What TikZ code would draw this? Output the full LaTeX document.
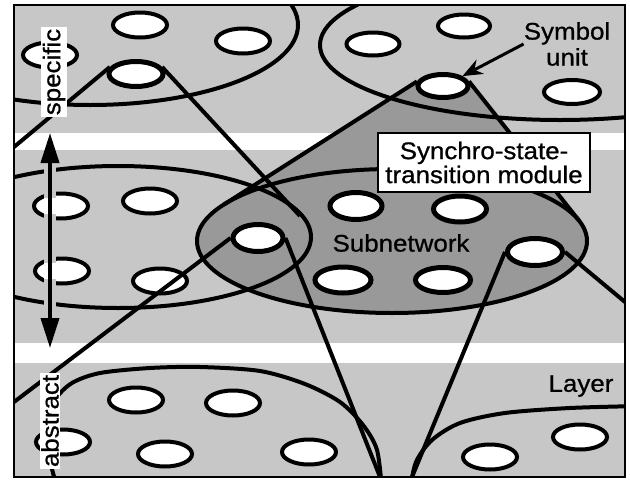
\documentclass[tikz,border=0pt]{standalone}
\usepackage{fontspec}
\setmainfont{Liberation Sans}[FakeStretch=1.08,FakeBold=0.8]
\usetikzlibrary{shapes.geometric,arrows.meta}
\definecolor{layergray}{gray}{0.78}
\definecolor{subgray}{gray}{0.6}
\begin{document}
\begin{tikzpicture}[x=1pt,y=-1pt,
  unit/.style={draw,ellipse,fill=white,line width=4pt,minimum width=54pt,minimum height=25pt,inner sep=0pt},
  keyunit/.style={unit,line width=5pt},
  edge/.style={line width=4pt},
  layerline/.style={line width=4pt},
  lbl/.style={font=\fontsize{24pt}{24pt}\selectfont, inner sep=0pt, align=center},
  side/.style={lbl, fill=white, rotate=90, inner sep=1.5pt}
]
\useasboundingbox (0,0) rectangle (630,480);
\begin{scope}
\clip (14,5) rectangle (625,477);
% layer background and gaps
\fill[layergray] (14,5) rectangle (625,477);
\fill[white] (14,133) rectangle (625,150);
\fill[white] (14,343) rectangle (625,363);
% dark cone of the symbol unit onto the subnetwork
\fill[subgray] (418.5,82) -- (223.8,204.6) -- (579.1,220.7) -- (467.5,82) -- cycle;
\fill[subgray] (392,241) ellipse [x radius=195pt, y radius=72pt];
% layer groupings
\draw[layerline] (90,25) ellipse [x radius=208pt, y radius=80pt];
\draw[layerline] (560,45) ellipse [x radius=240pt, y radius=75pt];
\draw[layerline] (118,237) ellipse [x radius=193pt, y radius=71pt];
\draw[layerline] (392,241) ellipse [x radius=195pt, y radius=72pt];
\draw[layerline] plot[smooth] coordinates {(58,490) (50,460) (48,425) (55,400) (72,383) (100,373) (150,368) (200,367) (260,371) (305,384) (340,402) (363,425) (377,450) (382,490)};
\draw[layerline] plot[smooth] coordinates {(410,490) (416,462) (432,440) (460,423) (505,413) (570,408) (640,406)};
% units: top layer
\node[unit] (t0) at (50,55) {};
\node[unit] (t1) at (140,25) {};
\node[unit] (t2) at (243,41) {};
\node[keyunit] (A) at (136,74) {};
\node[unit, minimum width=53pt, minimum height=23pt] (t3) at (373,44) {};
\node[unit, minimum width=52pt, minimum height=23pt] (t4) at (464,26) {};
\node[keyunit, minimum width=50pt, minimum height=23pt] (S) at (443,86) {};
\node[unit, minimum width=56pt, minimum height=24pt] (t5) at (572,92) {};
% units: middle layer
\node[unit] (m1) at (61,206) {};
\node[unit] (m2) at (150,201) {};
\node[unit] (m3) at (62,271) {};
\node[unit] (m4) at (160,281) {};
\node[keyunit, minimum width=50pt, minimum height=27pt] (B) at (258,238) {};
\node[keyunit, minimum width=52pt, minimum height=27pt] (s1) at (356,206) {};
\node[keyunit, minimum width=53pt, minimum height=26pt] (s2) at (460,209) {};
\node[keyunit, minimum width=56pt, minimum height=26pt] (s3) at (343,280) {};
\node[keyunit, minimum width=55pt, minimum height=25pt] (s4) at (443,280) {};
\node[keyunit, minimum width=55pt, minimum height=27pt] (C) at (535,252) {};
% units: bottom layer
\node[unit] (b0) at (63,442) {};
\node[unit] (b1) at (136,400) {};
\node[unit] (b2) at (233,403) {};
\node[unit] (b3) at (165,454) {};
\node[unit] (b4) at (309,452) {};
\node[unit] (b5) at (490,457) {};
\node[unit] (b6) at (580,437) {};
% cone end points
\coordinate (aL) at (14,147);
\coordinate (aR) at (300,216);
\coordinate (snL) at (223.8,204.6);
\coordinate (snR) at (579.1,220.7);
\coordinate (bL) at (14,402);
\coordinate (bR) at (380,477);
\coordinate (cL) at (412,477);
\coordinate (cR) at (625,302);
% cone lines
\draw[edge] (A.165) -- (aL);
\draw[edge] (A.15) -- (aR);
\draw[edge] (S.170) -- (snL);
\draw[edge] (S.10) -- (snR);
\draw[edge] (B.west) -- (bL);
\draw[edge] (B.east) -- (bR);
\draw[edge] (C.west) -- (cL);
\draw[edge] (C.east) -- (cR);
\end{scope}
% labels
\node[lbl, draw, fill=white, line width=2.4pt, minimum width=212pt, minimum height=59pt] (mod) at (484,162.5) {Synchro-state-\\transition module};
\node[lbl] (subnet) at (401,243) {Subnetwork};
\node[lbl, font=\fontsize{24pt}{26pt}\selectfont] (symlab) at (567,44) {Symbol\\unit};
\node[lbl] (layer) at (581,386) {Layer};
\draw[line width=3pt, -{Stealth[length=20pt,width=16pt]}] (symlab.west) -- (S.north east);
\node[side] (spec) at (54,72) {specific};
\node[side] (abst) at (50,421) {abstract};
% specific-abstract axis
\coordinate (arrtop) at (50,133);
\coordinate (arrbot) at (50,348);
\draw[layergray, line width=12pt] (50,165) -- (50,316);
\draw[white, line width=12pt] (50,198) -- (50,214);
\draw[white, line width=12pt] (50,263) -- (50,279);
\draw[line width=3.8pt, {Triangle[length=30pt,width=18pt]}-{Triangle[length=30pt,width=18pt]}] (arrtop) -- (arrbot);
% frame
\draw[line width=2.8pt] (14,5) rectangle (625,477);
\end{tikzpicture}
\end{document}
